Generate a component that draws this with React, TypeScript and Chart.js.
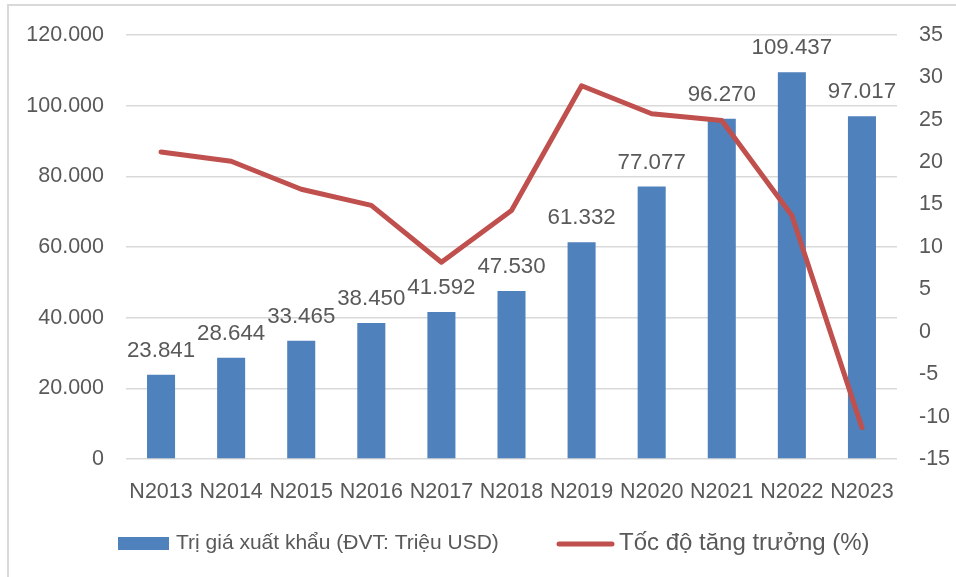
import React, { useEffect, useRef } from "react";
import { Chart, registerables } from "chart.js";

Chart.register(...registerables);

const categories = ["N2013", "N2014", "N2015", "N2016", "N2017", "N2018", "N2019", "N2020", "N2021", "N2022", "N2023"];
const exportValues = [23841, 28644, 33465, 38450, 41592, 47530, 61332, 77077, 96270, 109437, 97017];
const growthRates = [21.2, 20.1, 16.8, 14.9, 8.2, 14.3, 29.0, 25.7, 24.9, 13.7, -11.3];
const barLabel = "Trị giá xuất khẩu (ĐVT: Triệu USD)";
const lineLabel = "Tốc độ tăng trưởng (%)";

const FONT = "'Liberation Sans', Arial, sans-serif";
const TEXT = "#595959";
const BAR = "#4f81bd";
const LINE = "#c0504d";
const GRID = "#d9d9d9";

const fmt = (n: number) => String(n).replace(/\B(?=(\d{3})+(?!\d))/g, ".");

const framePlugin = {
  id: "frame",
  beforeDraw(chart: any) {
    const ctx = chart.ctx;
    ctx.save();
    ctx.fillStyle = "#ffffff";
    ctx.fillRect(0, 0, chart.width, chart.height);
    ctx.strokeStyle = GRID;
    ctx.lineWidth = 2;
    ctx.strokeRect(8, 5, 1000, 1000);
    ctx.restore();
  },
};

const labelsPlugin = {
  id: "barLabels",
  afterDatasetsDraw(chart: any) {
    const ctx = chart.ctx;
    const meta = chart.getDatasetMeta(0);
    ctx.save();
    ctx.fillStyle = TEXT;
    ctx.font = `22.3px ${FONT}`;
    ctx.textAlign = "center";
    ctx.textBaseline = "alphabetic";
    meta.data.forEach((bar: any, i: number) => {
      ctx.fillText(fmt(exportValues[i]), bar.x, bar.y - 18);
    });
    ctx.restore();
  },
};

const legendPlugin = {
  id: "customLegend",
  afterDraw(chart: any) {
    const ctx = chart.ctx;
    ctx.save();
    ctx.fillStyle = BAR;
    ctx.fillRect(118, 537, 51, 13);
    ctx.fillStyle = TEXT;
    ctx.textBaseline = "middle";
    ctx.textAlign = "left";
    ctx.font = `21px ${FONT}`;
    ctx.fillText(barLabel, 176, 543);
    ctx.strokeStyle = LINE;
    ctx.lineWidth = 5;
    ctx.lineCap = "round";
    ctx.beginPath();
    ctx.moveTo(559, 544);
    ctx.lineTo(612, 544);
    ctx.stroke();
    ctx.font = `24px ${FONT}`;
    ctx.fillText(lineLabel, 619, 543);
    ctx.restore();
  },
};

export default function App() {
  const ref = useRef<HTMLCanvasElement | null>(null);
  useEffect(() => {
    if (!ref.current) return;
    const chart = new Chart(ref.current, {
      type: "bar",
      data: {
        labels: categories,
        datasets: [
          {
            type: "bar",
            label: barLabel,
            data: exportValues,
            backgroundColor: BAR,
            yAxisID: "y",
            barPercentage: 0.4,
            categoryPercentage: 1,
            order: 2,
          },
          {
            type: "line",
            label: lineLabel,
            data: growthRates,
            borderColor: LINE,
            backgroundColor: LINE,
            borderWidth: 5,
            pointRadius: 0,
            borderJoinStyle: "round",
            borderCapStyle: "round",
            yAxisID: "y1",
            order: 1,
          },
        ],
      } as any,
      options: {
        responsive: false,
        animation: false,
        layout: { padding: { top: 34, left: 0, right: 0, bottom: 0 } },
        plugins: { legend: { display: false }, tooltip: { enabled: false } },
        scales: {
          x: {
            offset: true,
            grid: { display: false },
            border: { display: false },
            ticks: { color: TEXT, font: { family: FONT, size: 21.5 }, padding: 12, maxRotation: 0, autoSkip: false },
            afterFit: (s: any) => { s.height = 118; },
          },
          y: {
            position: "left",
            min: 0,
            max: 120000,
            grid: { color: GRID, lineWidth: 1.5, drawTicks: false },
            border: { display: false },
            ticks: { stepSize: 20000, color: TEXT, font: { family: FONT, size: 21.5 }, padding: 22, callback: (v: any) => fmt(Number(v)) },
            afterFit: (s: any) => { s.width = 126; },
          },
          y1: {
            position: "right",
            min: -15,
            max: 35,
            grid: { display: false, drawTicks: false },
            border: { display: false },
            ticks: { stepSize: 5, color: TEXT, font: { family: FONT, size: 21.5 }, padding: 22 },
            afterFit: (s: any) => { s.width = 59; },
          },
        },
      } as any,
      plugins: [framePlugin, labelsPlugin, legendPlugin],
    });
    return () => chart.destroy();
  }, []);
  return (
    <div style={{ position: "fixed", left: 0, top: 0, width: 956, height: 577, background: "#fff" }}>
      <canvas ref={ref} width={956} height={577} style={{ display: "block" }} />
    </div>
  );
}
